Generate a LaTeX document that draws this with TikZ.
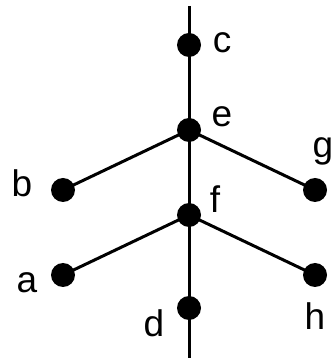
\documentclass[tikz,border=0pt]{standalone}
\usepackage{fontspec}
\setmainfont{Liberation Sans}
\begin{document}
\begin{tikzpicture}[x=1pt,y=1pt,
  dot/.style={circle,fill=black,inner sep=0pt,minimum size=24pt},
  lbl/.style={inner sep=0pt,font=\fontsize{37}{40}\selectfont},
  edge/.style={line width=3pt}]
\useasboundingbox (0,0) rectangle (334,358);
\coordinate (top) at (189,352);
\coordinate (bot) at (189,358-358);
\node[dot] (c) at (189,358-45) {};
\node[dot] (e) at (189,358-130) {};
\node[dot] (b) at (63,358-190) {};
\node[dot] (g) at (315,358-190) {};
\node[dot] (f) at (189,358-215) {};
\node[dot] (a) at (63,358-275) {};
\node[dot] (h) at (315,358-275) {};
\node[dot] (d) at (189,358-308) {};
\draw[edge] (top) -- (c.center) -- (e.center) -- (f.center) -- (d.center) -- (bot);
\draw[edge] (b.center) -- (e.center) -- (g.center);
\draw[edge] (a.center) -- (f.center) -- (h.center);
\node[lbl,anchor=base] (lc) at (222,358-53) {c};
\node[lbl,anchor=base] (le) at (222,358-127) {e};
\node[lbl,anchor=base] (lg) at (323,358-158) {g};
\node[lbl,anchor=base] (lb) at (22,358-197) {b};
\node[lbl,anchor=base] (lf) at (215,358-213) {f};
\node[lbl,anchor=base] (la) at (27,358-293) {a};
\node[lbl,anchor=base] (lh) at (315,358-330) {h};
\node[lbl,anchor=base] (ld) at (154,358-337) {d};
\end{tikzpicture}
\end{document}
